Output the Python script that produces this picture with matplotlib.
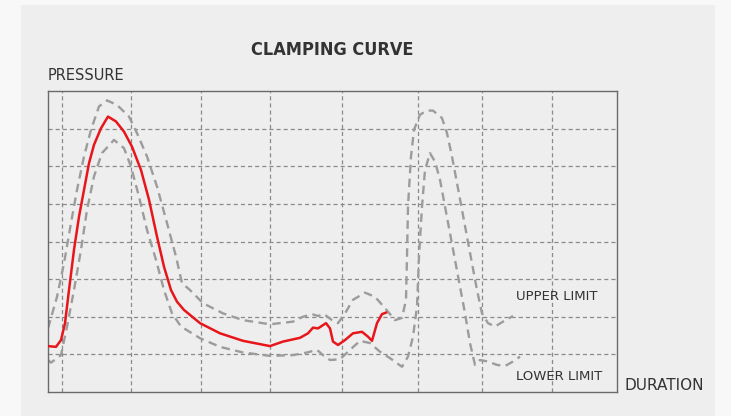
import numpy as np
import matplotlib.pyplot as plt
from matplotlib.patches import Rectangle

plt.rcParams['font.family'] = ['DejaVu Sans']

# duration (arbitrary units) and pressure (grid units)
t_actual = [0, 8, 13, 17, 21, 26, 31, 36, 41, 46, 53, 60, 68, 76, 84, 93, 101,
            109, 116, 123, 129, 136, 152, 172, 195, 222, 235, 252, 260, 265, 270,
            278, 282, 285, 290, 297, 305, 314, 320, 324, 329, 334, 338]
p_actual = [1.22, 1.20, 1.38, 1.83, 2.71, 3.78, 4.66, 5.37, 6.08, 6.57, 7.01,
            7.32, 7.19, 6.92, 6.52, 5.90, 5.11, 4.13, 3.33, 2.71, 2.40, 2.18,
            1.83, 1.56, 1.36, 1.22, 1.34, 1.44, 1.56, 1.71, 1.69, 1.83, 1.69,
            1.34, 1.25, 1.38, 1.56, 1.60, 1.47, 1.36, 1.83, 2.07, 2.11]

t_upper = [0, 9, 16, 23, 29, 36, 43, 51, 59, 69, 81, 89, 99, 109, 119, 128, 134,
           142, 155, 175, 195, 222, 245, 255, 264, 270, 276, 284, 290, 297, 305,
           317, 327, 337, 347, 354, 358, 359, 360, 363, 366, 372, 379, 385, 394,
           399, 404, 409, 414, 419, 424, 429, 434, 440, 447, 455, 465]
p_upper = [1.69, 2.53, 3.42, 4.49, 5.37, 6.26, 6.97, 7.59, 7.75, 7.63, 7.32,
           6.88, 6.26, 5.46, 4.49, 3.60, 2.89, 2.71, 2.36, 2.09, 1.91, 1.80,
           1.87, 2.00, 2.07, 2.02, 2.07, 1.91, 1.83, 2.09, 2.45, 2.64, 2.53,
           2.23, 1.91, 1.97, 2.45, 3.60, 4.93, 6.26, 6.97, 7.37, 7.48, 7.48,
           7.28, 6.88, 6.26, 5.55, 4.84, 4.13, 3.42, 2.71, 2.09, 1.83, 1.74,
           1.87, 2.02]

t_lower = [0, 3, 13, 19, 26, 33, 39, 46, 54, 66, 76, 83, 91, 99, 108, 116, 124,
           133, 152, 172, 195, 222, 245, 259, 269, 275, 282, 292, 302, 312, 322,
           332, 342, 354, 360, 365, 369, 371, 374, 377, 382, 387, 392, 397, 402,
           407, 412, 417, 422, 427, 432, 440, 449, 457, 465, 472]
p_lower = [0.85, 0.78, 0.98, 1.74, 2.71, 3.78, 4.84, 5.73, 6.35, 6.70, 6.48,
           5.99, 5.19, 4.31, 3.51, 2.71, 2.09, 1.74, 1.43, 1.20, 1.05, 0.96,
           0.98, 1.05, 1.12, 0.98, 0.85, 0.87, 1.12, 1.36, 1.30, 1.07, 0.90,
           0.67, 0.94, 1.47, 2.27, 3.60, 4.93, 5.90, 6.35, 6.12, 5.64, 4.93,
           4.22, 3.51, 2.80, 2.09, 1.30, 0.72, 0.85, 0.81, 0.72, 0.69, 0.81,
           0.94]

grid_t = [14, 83, 153, 222, 294, 370, 434, 504]
grid_p = [1, 2, 3, 4, 5, 6, 7]

fig = plt.figure(figsize=(7.31, 4.16), dpi=100)
fig.patch.set_facecolor('#f8f8f8')
fig.patches.append(Rectangle((21 / 731, 0), 694 / 731, 411 / 416,
                             transform=fig.transFigure, facecolor='#eeeeee',
                             edgecolor='none', zorder=-5))

ax = fig.add_axes([48 / 731, 24 / 416, 569 / 731, 301 / 416])
ax.set_facecolor('#eeeeee')
ax.set_xlim(0, 569)
ax.set_ylim(0, 8)

grid_style = dict(color='#8a8a8a', lw=0.9, ls=(0, (3.3, 2.4)), zorder=1)
for t in grid_t:
    ax.axvline(t, **grid_style)
for p in grid_p:
    ax.axhline(p, **grid_style)

limit_style = dict(color='#9c9c9c', lw=1.7, ls=(0, (3.6, 2.3)), zorder=2)
ax.plot(t_upper, p_upper, **limit_style)
ax.plot(t_lower, p_lower, **limit_style)
ax.plot(t_actual, p_actual, color='#e8161b', lw=1.8, zorder=3,
        solid_joinstyle='round')

ax.text(468, 2.55, 'UPPER LIMIT', fontsize=9.5, color='#333333', va='center')
ax.text(468, 0.42, 'LOWER LIMIT', fontsize=9.5, color='#333333', va='center')

ax.set_xticks([])
ax.set_yticks([])
for s in ax.spines.values():
    s.set_color('#6a6a6a')
    s.set_linewidth(1.0)

fig.text(332 / 731, 1 - 50 / 416, 'CLAMPING CURVE', fontsize=13, fontweight='bold',
         fontstretch='condensed', color='#333333', ha='center', va='center')
fig.text(48 / 731, 1 - 75 / 416, 'PRESSURE', fontsize=10.5, color='#333333',
         ha='left', va='center')
fig.text(625 / 731, 1 - 385 / 416, 'DURATION', fontsize=11, color='#333333',
         ha='left', va='center')

fig.savefig('out.png', dpi=100, facecolor=fig.get_facecolor())
